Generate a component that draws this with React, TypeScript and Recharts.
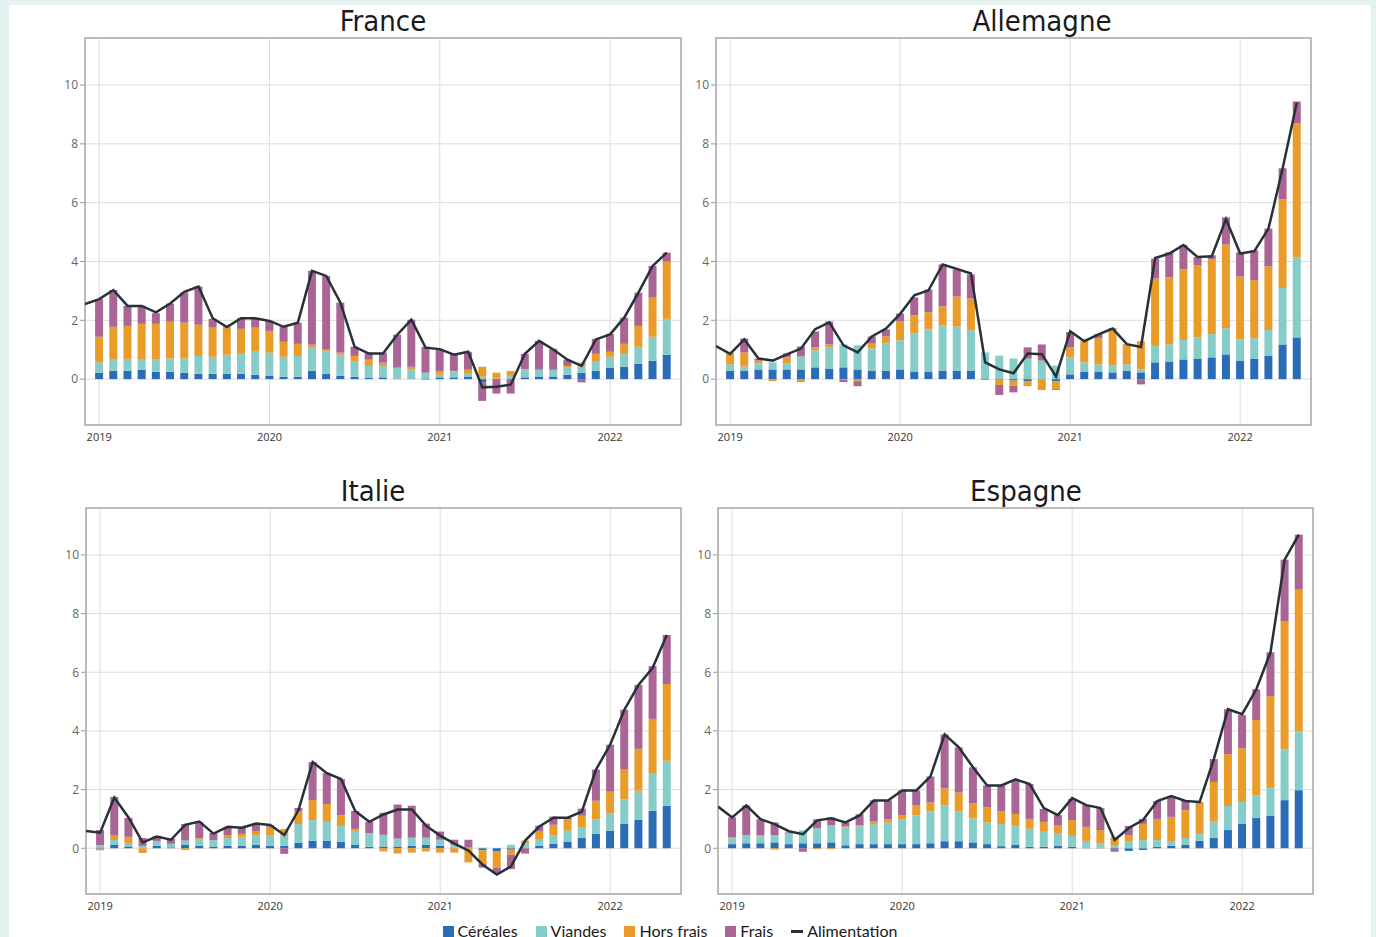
import React from 'react';
import { ComposedChart, Bar, Line, XAxis, YAxis, CartesianGrid, ReferenceArea } from 'recharts';

// monthly points, Dec 2018 .. May 2022 (first month only carries the line)
const months = [
  '2018-12',
  '2019-01', '2019-02', '2019-03', '2019-04', '2019-05', '2019-06', '2019-07', '2019-08', '2019-09', '2019-10', '2019-11', '2019-12',
  '2020-01', '2020-02', '2020-03', '2020-04', '2020-05', '2020-06', '2020-07', '2020-08', '2020-09', '2020-10', '2020-11', '2020-12',
  '2021-01', '2021-02', '2021-03', '2021-04', '2021-05', '2021-06', '2021-07', '2021-08', '2021-09', '2021-10', '2021-11', '2021-12',
  '2022-01', '2022-02', '2022-03', '2022-04', '2022-05',
];
const yTicks = [0, 2, 4, 6, 8, 10];
const Y_MIN = -1.56;
const Y_MAX = 11.6;

const seriesNames = ['Céréales', 'Viandes', 'Hors frais', 'Frais', 'Alimentation'];
const seriesColors = ['#2a6cb5', '#86cdca', '#e99c2a', '#a86595', '#263238'];

// France
const frCereales = [null, 0.22, 0.28, 0.28, 0.32, 0.25, 0.25, 0.22, 0.18, 0.18, 0.18, 0.18, 0.15, 0.11, 0.08, 0.08, 0.28, 0.18, 0.11, 0.08, 0.05, 0.06, 0.02, 0.02, 0.02, 0.06, 0.06, 0.09, -0.11, -0.03, 0, 0.06, 0.09, 0.09, 0.15, 0.22, 0.28, 0.39, 0.42, 0.52, 0.62, 0.83];
const frViandes = [null, 0.35, 0.38, 0.38, 0.34, 0.41, 0.45, 0.48, 0.61, 0.58, 0.65, 0.68, 0.78, 0.79, 0.68, 0.71, 0.79, 0.78, 0.72, 0.51, 0.40, 0.39, 0.37, 0.30, 0.20, 0.09, 0.19, 0.09, 0.08, 0.02, 0.11, 0.26, 0.23, 0.23, 0.24, 0.22, 0.31, 0.37, 0.44, 0.58, 0.82, 1.22];
const frHorsFrais = [null, 0.87, 1.12, 1.15, 1.22, 1.22, 1.25, 1.22, 1.06, 0.99, 0.94, 0.85, 0.82, 0.74, 0.51, 0.41, 0.10, 0.04, 0.07, 0.20, 0.21, 0.11, 0, 0.10, -0.03, 0.13, 0.03, 0.14, 0.34, 0.20, 0.17, 0.02, 0, 0, 0.06, 0.12, 0.27, 0.17, 0.34, 0.71, 1.33, 1.94];
const frFrais = [null, 1.28, 1.25, 0.68, 0.61, 0.36, 0.62, 1.03, 1.30, 0.30, 0.02, 0.36, 0.32, 0.34, 0.51, 0.72, 2.51, 2.51, 1.70, 0.31, 0.24, 0.34, 1.12, 1.60, 0.88, 0.72, 0.55, 0.61, -0.63, -0.46, -0.49, 0.52, 0.98, 0.71, 0.21, -0.11, 0.51, 0.61, 0.89, 1.13, 1.08, 0.31];
const frAlim = [2.55, 2.72, 3.03, 2.49, 2.49, 2.27, 2.57, 2.97, 3.15, 2.07, 1.77, 2.07, 2.07, 1.98, 1.78, 1.92, 3.68, 3.51, 2.60, 1.10, 0.87, 0.87, 1.51, 2.02, 1.07, 1.02, 0.83, 0.93, -0.28, -0.26, -0.19, 0.86, 1.30, 1.01, 0.66, 0.45, 1.35, 1.52, 2.09, 2.94, 3.85, 4.30];

// Allemagne
const deCereales = [null, 0.29, 0.29, 0.33, 0.33, 0.33, 0.33, 0.40, 0.36, 0.40, 0.33, 0.29, 0.29, 0.33, 0.26, 0.26, 0.29, 0.29, 0.29, -0.02, -0.02, -0.05, -0.07, 0, -0.07, 0.16, 0.26, 0.26, 0.23, 0.29, 0.23, 0.57, 0.60, 0.67, 0.70, 0.74, 0.84, 0.63, 0.70, 0.80, 1.18, 1.42];
const deViandes = [null, 0.21, 0.14, 0.20, 0.24, 0.20, 0.44, 0.58, 0.72, 0.78, 0.82, 0.75, 0.92, 0.99, 1.29, 1.43, 1.54, 1.50, 1.37, 0.91, 0.80, 0.70, 0.70, 0.63, 0.46, 0.58, 0.31, 0.24, 0.23, 0.21, 0.10, 0.55, 0.58, 0.66, 0.72, 0.79, 0.89, 0.72, 0.69, 0.87, 1.92, 2.72];
const deHorsFrais = [null, 0.38, 0.48, 0.10, -0.07, 0.21, -0.10, 0.10, 0.10, -0.03, -0.07, 0.17, 0.24, 0.64, 0.62, 0.58, 0.64, 1.02, 1.08, 0, -0.18, -0.17, -0.17, -0.37, -0.27, 0.34, 0.72, 0.89, 1.24, 0.69, 0.96, 2.30, 2.28, 2.40, 2.45, 2.54, 2.85, 2.14, 1.97, 2.16, 3.01, 4.56];
const deFrais = [null, 0, 0.47, 0.07, 0, 0.13, 0.34, 0.54, 0.78, -0.07, -0.17, 0.24, 0.24, 0.27, 0.61, 0.78, 1.43, 0.92, 0.82, 0, -0.34, -0.23, 0.38, 0.55, -0.03, 0.52, 0, 0.14, 0.03, 0, -0.18, 0.68, 0.85, 0.83, 0.28, 0.14, 0.92, 0.82, 1.02, 1.29, 1.06, 0.74];
const deAlim = [1.12, 0.86, 1.35, 0.70, 0.63, 0.84, 1.04, 1.70, 1.93, 1.15, 0.91, 1.45, 1.72, 2.22, 2.85, 3.02, 3.90, 3.75, 3.59, 0.57, 0.33, 0.20, 0.87, 0.85, 0.09, 1.63, 1.29, 1.52, 1.72, 1.19, 1.09, 4.12, 4.27, 4.56, 4.15, 4.18, 5.44, 4.27, 4.35, 5.12, 7.17, 9.41];

// Italie
const itCereales = [null, -0.02, 0.11, 0.06, 0, 0.08, 0.03, 0.11, 0.08, 0.06, 0.08, 0.08, 0.11, 0.08, 0.08, 0.18, 0.25, 0.25, 0.22, 0.11, 0.05, 0.06, 0.06, 0.09, 0.12, 0.09, 0.02, 0, -0.07, -0.11, -0.05, 0, 0.09, 0.16, 0.23, 0.36, 0.50, 0.60, 0.84, 0.98, 1.28, 1.45];
const itViandes = [null, 0.11, 0.17, 0.12, 0.08, 0.17, 0.12, 0.15, 0.24, 0.22, 0.27, 0.31, 0.34, 0.37, 0.37, 0.65, 0.71, 0.65, 0.54, 0.48, 0.47, 0.40, 0.27, 0.27, 0.24, 0.20, 0.10, 0.02, 0.02, 0, 0.12, 0.16, 0.20, 0.27, 0.37, 0.34, 0.48, 0.58, 0.82, 0.98, 1.26, 1.53];
const itHorsFrais = [null, -0.05, 0.17, 0.21, -0.16, 0, 0, -0.06, 0.03, 0, 0.10, 0.10, 0.14, 0.28, 0.21, 0.44, 0.68, 0.61, 0.37, 0.07, 0, -0.11, -0.18, -0.15, -0.11, -0.15, -0.15, -0.48, -0.47, -0.55, -0.17, 0.10, 0.28, 0.37, 0.38, 0.41, 0.64, 0.75, 1.02, 1.43, 1.87, 2.62];
const itFrais = [null, 0.51, 1.30, 0.64, 0.27, 0.17, 0.18, 0.57, 0.55, 0.24, 0.24, 0.20, 0.24, 0.06, -0.19, 0.10, 1.30, 1.05, 1.23, 0.61, 0.38, 0.75, 1.16, 1.09, 0.48, 0.28, 0.17, 0.27, -0.12, -0.20, -0.49, -0.18, 0.20, 0.28, 0.06, 0.24, 1.06, 1.60, 2.04, 2.18, 1.80, 1.67];
const itAlim = [0.59, 0.53, 1.73, 1.05, 0.20, 0.40, 0.29, 0.80, 0.91, 0.50, 0.73, 0.70, 0.84, 0.79, 0.45, 1.30, 2.94, 2.56, 2.36, 1.27, 0.90, 1.15, 1.32, 1.32, 0.77, 0.43, 0.16, -0.08, -0.56, -0.90, -0.62, 0.26, 0.74, 1.04, 1.04, 1.25, 2.68, 3.53, 4.72, 5.57, 6.15, 7.27];

// Espagne
const esCereales = [null, 0.14, 0.17, 0.17, 0.20, 0.14, 0.17, 0.17, 0.20, 0.10, 0.14, 0.14, 0.14, 0.14, 0.14, 0.17, 0.24, 0.24, 0.20, 0.14, 0.07, 0.11, 0.05, 0.05, 0.08, 0.05, 0.01, 0.01, -0.05, -0.09, -0.06, 0.05, 0.08, 0.11, 0.25, 0.35, 0.62, 0.83, 1.03, 1.10, 1.64, 1.98];
const esViandes = [null, 0.20, 0.27, 0.24, 0.24, 0.37, 0.44, 0.51, 0.58, 0.61, 0.61, 0.68, 0.74, 0.85, 0.98, 1.09, 1.22, 1.02, 0.82, 0.74, 0.75, 0.68, 0.61, 0.51, 0.44, 0.37, 0.24, 0.17, 0.11, 0.22, 0.28, 0.23, 0.14, 0.24, 0.27, 0.58, 0.82, 0.75, 0.78, 0.95, 1.74, 2.01];
const esHorsFrais = [null, 0.03, 0, 0.03, -0.05, 0, 0, -0.03, -0.03, 0.04, 0.03, 0.10, 0.11, 0.13, 0.34, 0.30, 0.58, 0.64, 0.51, 0.51, 0.44, 0.38, 0.34, 0.34, 0.27, 0.54, 0.48, 0.44, 0.27, 0.23, 0.55, 0.72, 0.85, 0.95, 1.06, 1.33, 1.77, 1.83, 2.56, 3.13, 4.35, 4.83];
const esFrais = [null, 0.68, 1.02, 0.55, 0.44, 0.03, -0.12, 0.31, 0.27, 0.13, 0.38, 0.71, 0.64, 0.85, 0.51, 0.89, 1.84, 1.54, 1.23, 0.75, 0.88, 1.15, 1.19, 0.44, 0.34, 0.72, 0.74, 0.75, -0.07, 0.31, 0.17, 0.61, 0.68, 0.34, 0, 0.78, 1.53, 1.13, 1.05, 1.50, 2.11, 1.87];
const esAlim = [1.42, 1.05, 1.46, 0.99, 0.82, 0.58, 0.48, 0.95, 1.02, 0.88, 1.12, 1.63, 1.63, 1.97, 1.97, 2.45, 3.88, 3.44, 2.76, 2.14, 2.14, 2.35, 2.19, 1.37, 1.13, 1.71, 1.47, 1.37, 0.28, 0.69, 0.96, 1.61, 1.78, 1.61, 1.58, 3.04, 4.74, 4.57, 5.42, 6.68, 9.84, 10.69];

const yearTicks = months.map((m, i) => (m.endsWith('-01') ? i : -1)).filter((i) => i >= 0);

const buildRows = (cer: any[], via: any[], hf: any[], fr: any[], ali: number[]) =>
  months.map((m, i) => ({ x: i, month: m, cer: cer[i], via: via[i], hf: hf[i], fr: fr[i], ali: ali[i] }));

interface PanelProps {
  title: string;
  rows: any[];
  plotLeft: number;
  plotTop: number;
  plotW: number;
  plotH: number;
  titleX: number;
}

const FONT = '"Open Sans", "Noto Sans", sans-serif';

const Panel: React.FC<PanelProps> = ({ title, rows, plotLeft, plotTop, plotW, plotH, titleX }) => {
  return (
    <>
      <div
        style={{
          position: 'absolute',
          left: titleX - 150,
          width: 300,
          top: plotTop - 34,
          textAlign: 'center',
          fontSize: 29,
          lineHeight: '34px',
          color: '#1a1a1a',
          fontFamily: '"Liberation Sans Narrow", "DejaVu Sans Condensed", "Open Sans", sans-serif',
          fontStretch: 'condensed',
        }}
      >
        {title}
      </div>
      <div style={{ position: 'absolute', left: plotLeft - 40, top: plotTop - 10 }}>
        <ComposedChart
          width={plotW + 50}
          height={plotH + 40}
          data={rows}
          margin={{ top: 10, right: 10, left: 0, bottom: 0 }}
          stackOffset="sign"
        >
          <CartesianGrid stroke="#dddddd" strokeWidth={1} />
          <XAxis
            type="number"
            dataKey="x"
            domain={[0, months.length]}
            ticks={yearTicks}
            tickFormatter={(v: number) => months[v].slice(0, 4)}
            height={30}
            axisLine={false}
            tickLine={false}
            tick={{ fontSize: 11, fill: '#333', fontFamily: FONT }}
            allowDataOverflow
          />
          <YAxis
            domain={[Y_MIN, Y_MAX]}
            ticks={yTicks}
            width={40}
            axisLine={false}
            tickLine={{ stroke: '#999' }}
            tickSize={5}
            tick={{ fontSize: 12, fill: '#666', fontFamily: FONT }}
            allowDataOverflow
          />
          <ReferenceArea x1={0} x2={months.length} y1={Y_MIN} y2={Y_MAX} fill="none" stroke="#aaaaaa" strokeWidth={1.5} />
          <Bar dataKey="cer" stackId="s" fill={seriesColors[0]} barSize={8} isAnimationActive={false} />
          <Bar dataKey="via" stackId="s" fill={seriesColors[1]} barSize={8} isAnimationActive={false} />
          <Bar dataKey="hf" stackId="s" fill={seriesColors[2]} barSize={8} isAnimationActive={false} />
          <Bar dataKey="fr" stackId="s" fill={seriesColors[3]} barSize={8} isAnimationActive={false} />
          <Line dataKey="ali" stroke={seriesColors[4]} strokeWidth={2.5} dot={false} isAnimationActive={false} />
        </ComposedChart>
      </div>
    </>
  );
};

export default function App() {
  return (
    <div style={{ position: 'relative', width: 1376, height: 937, background: '#e4f2f2', overflow: 'hidden', fontFamily: FONT }}>
      <style>{'body{margin:0}'}</style>
      <div style={{ position: 'absolute', left: 9, top: 5, width: 1362, height: 940, background: '#fff' }} />
      <Panel title="France" rows={buildRows(frCereales, frViandes, frHorsFrais, frFrais, frAlim)} plotLeft={85} plotTop={38} plotW={596} plotH={387} titleX={383} />
      <Panel title="Allemagne" rows={buildRows(deCereales, deViandes, deHorsFrais, deFrais, deAlim)} plotLeft={716} plotTop={38} plotW={595} plotH={387} titleX={1042} />
      <Panel title="Italie" rows={buildRows(itCereales, itViandes, itHorsFrais, itFrais, itAlim)} plotLeft={86} plotTop={508} plotW={595} plotH={386} titleX={373} />
      <Panel title="Espagne" rows={buildRows(esCereales, esViandes, esHorsFrais, esFrais, esAlim)} plotLeft={718} plotTop={508} plotW={595} plotH={386} titleX={1026} />
      <div
        style={{
          position: 'absolute',
          top: 921,
          left: 0,
          width: 1340,
          display: 'flex',
          justifyContent: 'center',
          gap: 18,
          fontSize: 16,
          color: '#1a1a1a',
          fontFamily: 'Lato, "Open Sans", sans-serif',
          lineHeight: '20px',
        }}
      >
        {seriesNames.map((name, i) => (
          <div key={name} style={{ display: 'flex', alignItems: 'center', gap: 4 }}>
            <span
              style={{
                display: 'inline-block',
                width: i === 4 ? 12 : 11,
                height: i === 4 ? 3 : 11,
                background: seriesColors[i],
              }}
            />
            <span>{name}</span>
          </div>
        ))}
      </div>
    </div>
  );
}
